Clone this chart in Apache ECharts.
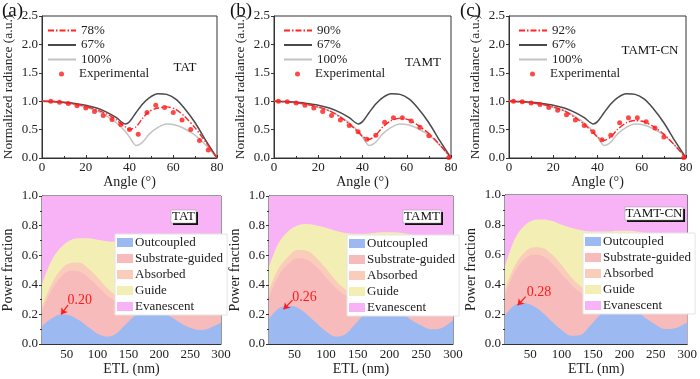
<!DOCTYPE html>
<html>
<head>
<meta charset="utf-8">
<script src="https://cdn.jsdelivr.net/npm/echarts@6/dist/echarts.min.js"></script>
<style>
  html, body { margin: 0; padding: 0; background: #fff; }
  #chart { width: 700px; height: 379px; }
</style>
</head>
<body>
<div id="chart"></div>
<script>
// angular radiance (top row)
var angles = [0, 5, 10, 15, 20, 25, 30, 34, 38, 40, 43, 46, 49, 53, 57, 61, 65, 70, 75, 80];
var rad67  = [1.0, 0.995, 0.98, 0.96, 0.93, 0.88, 0.80, 0.71, 0.60, 0.64, 0.80, 0.95, 1.06, 1.13, 1.12, 1.04, 0.88, 0.62, 0.30, 0.0];
var rad100 = [1.0, 0.99, 0.97, 0.94, 0.89, 0.83, 0.73, 0.62, 0.47, 0.37, 0.22, 0.28, 0.42, 0.54, 0.60, 0.58, 0.52, 0.40, 0.22, 0.0];
var radTAT   = [1.0, 0.995, 0.975, 0.95, 0.91, 0.85, 0.77, 0.67, 0.55, 0.50, 0.55, 0.70, 0.82, 0.88, 0.90, 0.86, 0.74, 0.53, 0.27, 0.0];
var radTAMT  = [1.0, 0.99, 0.975, 0.945, 0.90, 0.83, 0.72, 0.60, 0.46, 0.38, 0.33, 0.40, 0.54, 0.66, 0.70, 0.67, 0.58, 0.43, 0.23, 0.0];
var radTAMTCN = [1.0, 0.99, 0.975, 0.945, 0.90, 0.83, 0.71, 0.59, 0.45, 0.37, 0.31, 0.37, 0.50, 0.62, 0.66, 0.64, 0.56, 0.42, 0.22, 0.0];

var expAnglesA = [4, 8, 12, 16, 20, 24, 28, 32, 36, 40, 44, 48, 52, 56, 60, 64, 68, 72, 76];
var expTAT     = [1.0, 0.98, 0.96, 0.92, 0.88, 0.82, 0.75, 0.68, 0.59, 0.50, 0.42, 0.80, 0.93, 0.89, 0.80, 0.67, 0.50, 0.31, 0.14];
var expAnglesB = [2, 6, 10, 14, 18, 22, 26, 30, 34, 38, 42, 46, 50, 54, 58, 62, 66, 70, 79];
var expTAMT    = [1.0, 0.99, 0.97, 0.93, 0.88, 0.82, 0.75, 0.67, 0.57, 0.46, 0.33, 0.40, 0.63, 0.71, 0.71, 0.65, 0.54, 0.39, 0.01];
var expTAMTCN  = [1.0, 0.99, 0.97, 0.94, 0.89, 0.84, 0.76, 0.67, 0.57, 0.46, 0.32, 0.40, 0.62, 0.71, 0.71, 0.64, 0.53, 0.37, 0.01];

// power fraction vs ETL (bottom row), cumulative tops of each band
var etl = [10, 25, 40, 55, 70, 85, 100, 115, 130, 145, 160, 175, 190, 205, 220, 235, 250, 265, 280, 300];
var tatOut   = [0.12, 0.17, 0.20, 0.195, 0.16, 0.115, 0.07, 0.05, 0.07, 0.13, 0.19, 0.22, 0.23, 0.215, 0.18, 0.14, 0.11, 0.095, 0.105, 0.145];
var tatSub   = [0.22, 0.36, 0.45, 0.495, 0.49, 0.45, 0.39, 0.33, 0.29, 0.275, 0.28, 0.29, 0.31, 0.33, 0.355, 0.375, 0.39, 0.40, 0.41, 0.41];
var tatAbs   = [0.25, 0.40, 0.50, 0.545, 0.55, 0.51, 0.45, 0.38, 0.33, 0.31, 0.31, 0.32, 0.34, 0.36, 0.385, 0.41, 0.43, 0.44, 0.45, 0.455];
var tatGuide = [0.40, 0.56, 0.65, 0.70, 0.715, 0.715, 0.705, 0.695, 0.69, 0.685, 0.68, 0.68, 0.68, 0.68, 0.68, 0.68, 0.678, 0.676, 0.676, 0.678];

var tamtOut   = [0.17, 0.24, 0.26, 0.245, 0.20, 0.14, 0.085, 0.05, 0.065, 0.13, 0.20, 0.245, 0.26, 0.25, 0.21, 0.16, 0.125, 0.10, 0.105, 0.16];
var tamtSub   = [0.32, 0.46, 0.54, 0.58, 0.57, 0.52, 0.45, 0.38, 0.33, 0.30, 0.30, 0.31, 0.33, 0.36, 0.39, 0.42, 0.44, 0.455, 0.465, 0.47];
var tamtAbs   = [0.365, 0.51, 0.59, 0.635, 0.63, 0.58, 0.51, 0.43, 0.37, 0.34, 0.34, 0.35, 0.37, 0.40, 0.43, 0.46, 0.48, 0.495, 0.505, 0.51];
var tamtGuide = [0.52, 0.68, 0.76, 0.80, 0.81, 0.80, 0.785, 0.765, 0.75, 0.745, 0.745, 0.75, 0.755, 0.755, 0.75, 0.74, 0.725, 0.71, 0.70, 0.69];

var cnOut   = [0.19, 0.26, 0.275, 0.255, 0.21, 0.15, 0.095, 0.055, 0.06, 0.12, 0.19, 0.24, 0.26, 0.255, 0.22, 0.17, 0.13, 0.10, 0.105, 0.145];
var cnSub   = [0.33, 0.48, 0.565, 0.60, 0.59, 0.54, 0.47, 0.40, 0.345, 0.315, 0.31, 0.32, 0.34, 0.37, 0.40, 0.43, 0.45, 0.465, 0.475, 0.48];
var cnAbs   = [0.37, 0.52, 0.61, 0.65, 0.645, 0.60, 0.53, 0.45, 0.39, 0.355, 0.35, 0.36, 0.38, 0.41, 0.44, 0.47, 0.49, 0.505, 0.515, 0.525];
var cnGuide = [0.52, 0.70, 0.79, 0.83, 0.835, 0.825, 0.80, 0.78, 0.765, 0.755, 0.755, 0.755, 0.76, 0.76, 0.755, 0.745, 0.73, 0.72, 0.705, 0.70];

var evanTop = [1, 1];
var evanX = [10, 300];

var peakLabels = ['0.20', '0.26', '0.28'];

var FONT = 'Liberation Serif';
var C_OUT = '#9cb9f1', C_SUB = '#f8bbbb', C_ABS = '#f9cdb9', C_GUIDE = '#f3efb4', C_EVAN = '#f8b3f6';

function pairs(xs, ys) {
  return xs.map(function (x, i) { return [x, ys[i]]; });
}

var topGrids = [
  { left: 41, top: 16, width: 176, height: 142 },
  { left: 274, top: 16, width: 177, height: 142 },
  { left: 509, top: 16, width: 177, height: 142 }
];
var botGrids = [
  { left: 37, top: 196, width: 184, height: 148 },
  { left: 269, top: 196, width: 184, height: 148 },
  { left: 505, top: 195, width: 183, height: 149 }
];

var grid = [], xAxis = [], yAxis = [], series = [], legend = [];

topGrids.forEach(function (g, i) {
  grid.push(Object.assign({ show: true, borderColor: '#333', borderWidth: 1, backgroundColor: '#fff' }, g));
  xAxis.push({
    type: 'value', gridIndex: i, min: 0, max: 80, interval: 20,
    name: 'Angle (°)', nameLocation: 'middle', nameGap: 13,
    nameTextStyle: { fontFamily: FONT, fontSize: 14, color: '#222' },
    axisLine: { lineStyle: { color: '#333' } },
    axisTick: { inside: true, length: 3, lineStyle: { color: '#333' } },
    minorTick: { show: true, splitNumber: 2, length: 2, lineStyle: { color: '#333' } },
    axisLabel: { fontFamily: FONT, fontSize: 13, color: '#222', margin: 3 },
    splitLine: { show: false }
  });
  yAxis.push({
    type: 'value', gridIndex: i, min: 0, max: 2.5, interval: 0.5,
    name: 'Normalized radiance (a.u.)', nameLocation: 'middle', nameGap: 27,
    nameTextStyle: { fontFamily: FONT, fontSize: 13.5, color: '#222' },
    axisLine: { lineStyle: { color: '#333' } },
    axisTick: { inside: false, length: 3, lineStyle: { color: '#333' } },
    axisLabel: { fontFamily: FONT, fontSize: 13, color: '#222', margin: 4, formatter: function (v) { return v.toFixed(1); } },
    splitLine: { show: false }
  });
});

botGrids.forEach(function (g, i) {
  grid.push(Object.assign({ show: true, borderColor: '#333', borderWidth: 1, backgroundColor: C_EVAN }, g));
  xAxis.push({
    type: 'value', gridIndex: 3 + i, min: 10, max: 300,
    name: 'ETL (nm)', nameLocation: 'middle', nameGap: 18,
    nameTextStyle: { fontFamily: FONT, fontSize: 14, color: '#222' },
    axisLine: { lineStyle: { color: '#333' } },
    axisTick: { inside: true, length: 3, customValues: [25, 50, 75, 100, 125, 150, 175, 200, 225, 250, 275], lineStyle: { color: '#333' } },
    axisLabel: { fontFamily: FONT, fontSize: 13, color: '#222', margin: 4, customValues: [50, 100, 150, 200, 250, 300] },
    splitLine: { show: false }
  });
  yAxis.push({
    type: 'value', gridIndex: 3 + i, min: 0, max: 1, interval: 0.2,
    name: 'Power fraction', nameLocation: 'middle', nameGap: 27,
    nameTextStyle: { fontFamily: FONT, fontSize: 14, color: '#222' },
    axisLine: { lineStyle: { color: '#333' } },
    axisTick: { inside: false, length: 3, lineStyle: { color: '#333' } },
    minorTick: { show: true, splitNumber: 2, length: 2, lineStyle: { color: '#333' } },
    axisLabel: { fontFamily: FONT, fontSize: 13, color: '#222', margin: 4, formatter: function (v) { return v.toFixed(1); } },
    splitLine: { show: false }
  });
});

// top row series
var fitNames = ['78%', '90%', '92%'];
var fits = [radTAT, radTAMT, radTAMTCN];
var expX = [expAnglesA, expAnglesB, expAnglesB];
var expY = [expTAT, expTAMT, expTAMTCN];
for (var i = 0; i < 3; i++) {
  series.push({
    name: '100%', type: 'line', xAxisIndex: i, yAxisIndex: i, data: pairs(angles, rad100),
    smooth: 0.25, symbol: 'none', lineStyle: { color: '#c3c3c3', width: 1.5 }, itemStyle: { color: '#c3c3c3' }
  });
  series.push({
    name: '67%', type: 'line', xAxisIndex: i, yAxisIndex: i, data: pairs(angles, rad67),
    smooth: 0.25, symbol: 'none', lineStyle: { color: '#4a4a4a', width: 1.5 }, itemStyle: { color: '#4a4a4a' }
  });
  series.push({
    name: fitNames[i], type: 'line', xAxisIndex: i, yAxisIndex: i, data: pairs(angles, fits[i]),
    smooth: 0.25, symbol: 'none', lineStyle: { color: '#ff2525', width: 1.4, type: [6, 2, 1.5, 2] }, itemStyle: { color: '#ff2525' }
  });
  series.push({
    name: 'Experimental', type: 'scatter', xAxisIndex: i, yAxisIndex: i, data: pairs(expX[i], expY[i]),
    symbol: 'circle', symbolSize: 5, itemStyle: { color: '#ff1a1a' }, z: 5
  });
}

// bottom row series
var bands = [
  [tatGuide, tatAbs, tatSub, tatOut],
  [tamtGuide, tamtAbs, tamtSub, tamtOut],
  [cnGuide, cnAbs, cnSub, cnOut]
];
var arrows = [
  [[52, 0.262], [41, 0.2]],
  [[47, 0.297], [33, 0.235]],
  [[43, 0.318], [30, 0.26]]
];
var labelAt = [[71, 0.292], [66, 0.318], [64, 0.35]];
for (var j = 0; j < 3; j++) {
  var ax = 3 + j;
  var b = bands[j];
  var base = { type: 'line', xAxisIndex: ax, yAxisIndex: ax, smooth: 0.35, symbol: 'none', lineStyle: { width: 0 }, silent: true };
  series.push(Object.assign({}, base, { name: 'Evanescent', data: pairs(evanX, evanTop), itemStyle: { color: C_EVAN }, areaStyle: { color: C_EVAN, opacity: 1 } }));
  series.push(Object.assign({}, base, { name: 'Guide', data: pairs(etl, b[0]), itemStyle: { color: C_GUIDE }, areaStyle: { color: C_GUIDE, opacity: 1 } }));
  series.push(Object.assign({}, base, { name: 'Absorbed', data: pairs(etl, b[1]), itemStyle: { color: C_ABS }, areaStyle: { color: C_ABS, opacity: 1 } }));
  series.push(Object.assign({}, base, { name: 'Substrate-guided', data: pairs(etl, b[2]), itemStyle: { color: C_SUB }, areaStyle: { color: C_SUB, opacity: 1 } }));
  series.push(Object.assign({}, base, {
    name: 'Outcoupled', data: pairs(etl, b[3]), itemStyle: { color: C_OUT }, areaStyle: { color: C_OUT, opacity: 1 },
    markLine: {
      silent: true, animation: false, symbol: ['none', 'arrow'], symbolSize: 6,
      lineStyle: { color: '#ff1a1a', width: 1.2, type: 'solid' }, label: { show: false },
      data: [[{ coord: arrows[j][0] }, { coord: arrows[j][1] }]]
    },
    markPoint: {
      silent: true, animation: false, symbol: 'circle', symbolSize: 0,
      label: { show: true, position: 'inside', color: '#ff1a1a', fontFamily: FONT, fontSize: 14, formatter: peakLabels[j] },
      data: [{ coord: labelAt[j] }]
    }
  }));
}

// legends
var topLegendX = [42, 278, 513];
topLegendX.forEach(function (lx, i) {
  legend.push({
    left: lx, top: 19, orient: 'vertical', itemGap: 1.5, itemWidth: 28, itemHeight: 10,
    data: [fitNames[i], '67%', '100%'], selectedMode: false,
    itemStyle: { color: 'rgba(0,0,0,0)', borderWidth: 0, opacity: 0 },
    textStyle: { fontFamily: FONT, fontSize: 13, lineHeight: 13, color: '#222' }
  });
  legend.push({
    left: lx + 12, top: 62.5, orient: 'vertical', itemWidth: 5, itemHeight: 5,
    data: [{ name: 'Experimental', icon: 'circle' }], selectedMode: false,
    textStyle: { fontFamily: FONT, fontSize: 13, lineHeight: 13, color: '#222', padding: [0, 0, 0, 10] }
  });
});
var botLegendPos = [[115, 234], [347, 235], [583, 233]];
botLegendPos.forEach(function (p) {
  legend.push({
    left: p[0], top: p[1], orient: 'vertical', itemGap: 3, itemWidth: 16, itemHeight: 9,
    icon: 'rect', selectedMode: false,
    backgroundColor: '#fff', borderColor: '#e4e4e4', borderWidth: 1, padding: [2, 4, 2, 2],
    data: ['Outcoupled', 'Substrate-guided', 'Absorbed', 'Guide', 'Evanescent'],
    textStyle: { fontFamily: FONT, fontSize: 13, color: '#222', padding: [0, 0, 0, -3] }
  });
});

function tagBox(x, y, w, text) {
  return {
    type: 'group', x: x, y: y, z: 100,
    children: [
      { type: 'rect', z: 100, shape: { x: 2, y: 2, width: w, height: 13 }, style: { fill: '#111' } },
      { type: 'rect', z: 101, shape: { x: 0, y: 0, width: w, height: 13 }, style: { fill: '#fff', stroke: '#999', lineWidth: 0.5 } },
      { type: 'text', z: 102, x: w / 2, y: 7, style: { text: text, font: '13px "Liberation Serif"', fill: '#111', align: 'center', verticalAlign: 'middle' } }
    ]
  };
}

var graphic = [
  { type: 'text', left: 2, top: 2, style: { text: '(a)', font: '19px "Liberation Serif"', fill: '#111' } },
  { type: 'text', left: 230, top: 2, style: { text: '(b)', font: '19px "Liberation Serif"', fill: '#111' } },
  { type: 'text', left: 460, top: 2, style: { text: '(c)', font: '19px "Liberation Serif"', fill: '#111' } },
  { type: 'text', x: 185, y: 68, style: { text: 'TAT', font: '13px "Liberation Serif"', fill: '#111', align: 'center', verticalAlign: 'middle' } },
  { type: 'text', x: 423, y: 63, style: { text: 'TAMT', font: '13px "Liberation Serif"', fill: '#111', align: 'center', verticalAlign: 'middle' } },
  { type: 'text', x: 650, y: 51, style: { text: 'TAMT-CN', font: '13px "Liberation Serif"', fill: '#111', align: 'center', verticalAlign: 'middle' } },
  tagBox(171, 210, 25, 'TAT'),
  tagBox(403, 210, 38, 'TAMT'),
  tagBox(625, 207, 58, 'TAMT-CN')
];

var chart = echarts.init(document.getElementById('chart'), null, { renderer: 'canvas' });
chart.setOption({
  backgroundColor: '#fff',
  animation: false,
  grid: grid,
  xAxis: xAxis,
  yAxis: yAxis,
  legend: legend,
  series: series,
  graphic: graphic
});
</script>
</body>
</html>
